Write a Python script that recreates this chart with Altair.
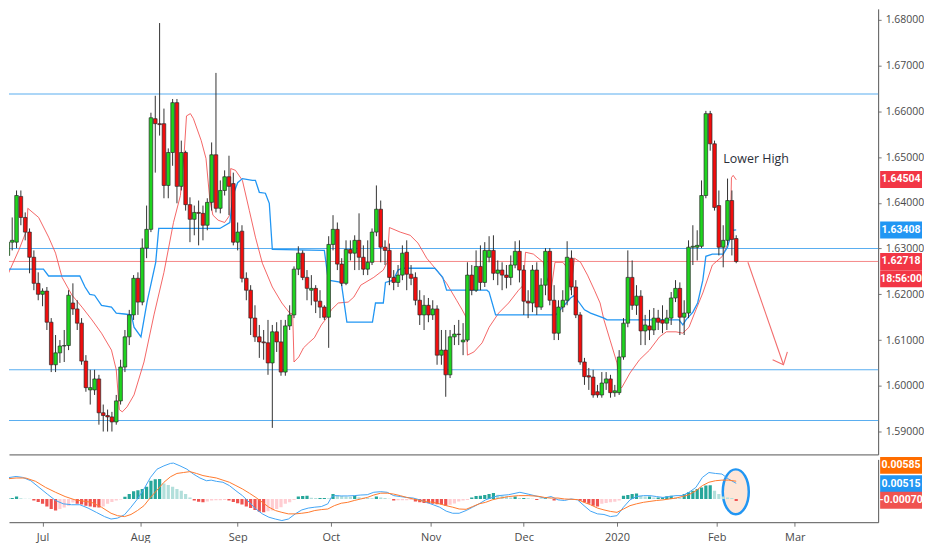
import altair as alt
import pandas as pd

# ---------------- candles (bar index 0 = 1 Jul 2019) ----------------
idx = list(range(-8, 161))
opens = [1.6285,1.6314,1.6314,1.6414,1.6368,1.6336,1.6281,1.6224,
 1.6200,1.6207,1.6139,1.6046,1.6072,1.6087,1.6088,1.6181,1.6168,1.6137,
 1.6054,1.5991,1.5991,1.6015,1.5941,1.5935,1.5932,1.5921,1.5967,1.6041,
 1.6107,1.6155,1.6235,1.6183,1.6301,1.6342,1.6584,1.6573,1.6573,1.6438,
 1.6510,1.6619,1.6436,1.6510,1.6396,1.6364,1.6379,1.6377,1.6351,1.6401,
 1.6505,1.6388,1.6427,1.6457,1.6442,1.6314,1.6338,1.6235,1.6209,1.6148,
 1.6107,1.6096,1.6094,1.6050,1.6118,1.6096,1.6030,1.6131,1.6155,1.6255,
 1.6290,1.6237,1.6209,1.6213,1.6185,1.6172,1.6150,1.6309,1.6342,1.6266,
 1.6224,1.6298,1.6290,1.6318,1.6281,1.6255,1.6270,1.6336,1.6386,1.6303,
 1.6296,1.6237,1.6226,1.6242,1.6292,1.6244,1.6237,1.6187,1.6155,1.6176,
 1.6155,1.6168,1.6067,1.6078,1.6024,1.6107,1.6113,1.6096,1.6100,1.6242,
 1.6209,1.6261,1.6226,1.6281,1.6296,1.6246,1.6253,1.6242,1.6237,1.6264,
 1.6294,1.6253,1.6185,1.6181,1.6253,1.6172,1.6220,1.6294,1.6187,1.6115,
 1.6172,1.6187,1.6279,1.6216,1.6155,1.6052,1.6022,1.6019,1.5987,1.5980,
 1.6006,1.6015,1.5985,1.5985,1.6063,1.6137,1.6237,1.6176,1.6196,1.6120,
 1.6131,1.6122,1.6148,1.6144,1.6137,1.6148,1.6192,1.6213,1.6150,1.6159,
 1.6303,1.6303,1.6305,1.6416,1.6595,1.6529,1.6394,1.6303,1.6318,1.6405,
 1.6322]
highs = [1.6336,1.6368,1.6427,1.6427,1.6379,1.6344,1.6296,1.6248,
 1.6213,1.6216,1.6148,1.6111,1.6100,1.6122,1.6209,1.6224,1.6187,1.6148,
 1.6067,1.6035,1.6035,1.6024,1.5959,1.5948,1.5943,1.5980,1.6057,1.6122,
 1.6166,1.6242,1.6248,1.6322,1.6394,1.6597,1.6634,1.6793,1.6606,1.6519,
 1.6627,1.6627,1.6536,1.6514,1.6412,1.6394,1.6405,1.6394,1.6410,1.6532,
 1.6684,1.6449,1.6471,1.6503,1.6466,1.6357,1.6351,1.6248,1.6220,1.6176,
 1.6133,1.6122,1.6144,1.6133,1.6139,1.6144,1.6144,1.6176,1.6261,1.6305,
 1.6296,1.6253,1.6242,1.6220,1.6209,1.6176,1.6327,1.6373,1.6357,1.6279,
 1.6318,1.6318,1.6329,1.6377,1.6307,1.6318,1.6344,1.6438,1.6405,1.6318,
 1.6311,1.6253,1.6264,1.6307,1.6318,1.6264,1.6248,1.6209,1.6198,1.6192,
 1.6187,1.6176,1.6122,1.6122,1.6122,1.6133,1.6144,1.6137,1.6270,1.6264,
 1.6296,1.6307,1.6314,1.6327,1.6329,1.6274,1.6270,1.6264,1.6285,1.6316,
 1.6318,1.6264,1.6209,1.6264,1.6270,1.6235,1.6301,1.6301,1.6220,1.6187,
 1.6209,1.6316,1.6296,1.6231,1.6161,1.6061,1.6039,1.6035,1.6002,1.6030,
 1.6030,1.6024,1.6002,1.6078,1.6148,1.6296,1.6274,1.6220,1.6209,1.6155,
 1.6166,1.6170,1.6166,1.6176,1.6166,1.6205,1.6231,1.6226,1.6187,1.6318,
 1.6351,1.6340,1.6449,1.6601,1.6601,1.6536,1.6427,1.6351,1.6453,1.6427,
 1.6329]
lows = [1.6270,1.6296,1.6301,1.6351,1.6318,1.6246,1.6209,1.6187,
 1.6174,1.6122,1.6030,1.6030,1.6050,1.6052,1.6078,1.6155,1.6122,1.6046,
 1.5987,1.5959,1.5980,1.5915,1.5900,1.5900,1.5900,1.5915,1.5959,1.6030,
 1.6089,1.6144,1.6155,1.6176,1.6279,1.6336,1.6466,1.6547,1.6410,1.6410,
 1.6481,1.6399,1.6427,1.6383,1.6314,1.6329,1.6307,1.6318,1.6340,1.6383,
 1.6379,1.6377,1.6416,1.6373,1.6307,1.6296,1.6226,1.6187,1.6111,1.6096,
 1.6061,1.6057,1.6024,1.5908,1.6074,1.6022,1.6022,1.6122,1.6148,1.6242,
 1.6231,1.6187,1.6176,1.6159,1.6148,1.6144,1.6083,1.6296,1.6253,1.6218,
 1.6220,1.6274,1.6253,1.6253,1.6242,1.6242,1.6264,1.6327,1.6270,1.6264,
 1.6220,1.6209,1.6216,1.6231,1.6209,1.6220,1.6176,1.6133,1.6122,1.6139,
 1.6144,1.6046,1.6046,1.5976,1.6017,1.6089,1.6089,1.6067,1.6096,1.6198,
 1.6205,1.6209,1.6216,1.6270,1.6231,1.6220,1.6209,1.6213,1.6220,1.6257,
 1.6226,1.6155,1.6148,1.6161,1.6155,1.6166,1.6198,1.6176,1.6100,1.6100,
 1.6161,1.6176,1.6198,1.6148,1.6046,1.6002,1.5991,1.5974,1.5974,1.5974,
 1.5991,1.5974,1.5976,1.5980,1.6057,1.6128,1.6166,1.6155,1.6089,1.6089,
 1.6100,1.6111,1.6122,1.6115,1.6122,1.6133,1.6183,1.6111,1.6111,1.6148,
 1.6264,1.6274,1.6301,1.6410,1.6514,1.6383,1.6285,1.6259,1.6307,1.6285,
 1.6268]
closes = [1.6314,1.6318,1.6416,1.6368,1.6336,1.6281,1.6224,1.6200,
 1.6207,1.6139,1.6046,1.6072,1.6087,1.6088,1.6198,1.6168,1.6137,1.6054,
 1.5996,1.5996,1.6015,1.5941,1.5935,1.5932,1.5921,1.5967,1.6041,1.6107,
 1.6155,1.6235,1.6183,1.6301,1.6342,1.6586,1.6573,1.6571,1.6438,1.6510,
 1.6619,1.6436,1.6510,1.6396,1.6364,1.6379,1.6377,1.6351,1.6401,1.6505,
 1.6388,1.6427,1.6457,1.6436,1.6314,1.6336,1.6235,1.6209,1.6148,1.6107,
 1.6096,1.6094,1.6050,1.6118,1.6096,1.6030,1.6131,1.6155,1.6255,1.6290,
 1.6237,1.6213,1.6213,1.6185,1.6172,1.6150,1.6309,1.6342,1.6266,1.6224,
 1.6298,1.6290,1.6318,1.6281,1.6255,1.6270,1.6336,1.6386,1.6303,1.6296,
 1.6237,1.6226,1.6242,1.6290,1.6244,1.6235,1.6187,1.6155,1.6176,1.6155,
 1.6168,1.6067,1.6078,1.6024,1.6107,1.6113,1.6112,1.6100,1.6242,1.6209,
 1.6261,1.6226,1.6296,1.6296,1.6246,1.6253,1.6242,1.6237,1.6264,1.6294,
 1.6253,1.6185,1.6181,1.6253,1.6172,1.6220,1.6294,1.6187,1.6115,1.6172,
 1.6187,1.6281,1.6216,1.6155,1.6052,1.6020,1.6019,1.5980,1.5980,1.6006,
 1.6015,1.5985,1.5989,1.6063,1.6137,1.6237,1.6176,1.6196,1.6120,1.6133,
 1.6122,1.6148,1.6139,1.6137,1.6148,1.6192,1.6213,1.6150,1.6159,1.6303,
 1.6305,1.6307,1.6416,1.6595,1.6529,1.6390,1.6303,1.6318,1.6405,1.6320,
 1.62718]

# ---------------- overlays on price ----------------
red_i = [-8.4,-5.5,-4.3,-3.6,-3.4,-0.9,1.4,3.0,4.5,6.8,9.1,11.4,13.6,15.9,17.0,17.7,18.4,19.5,21.1,
 23.4,25.7,28.0,30.2,31.8,32.7,33.2,34.1,34.8,36.6,37.7,38.6,39.3,40.5,42.0,43.2,43.4,44.5,46.1,
 47.7,49.1,50.7,53.0,55.2,57.0,57.7,58.0,59.1,60.2,61.4,62.7,64.3,65.5,66.6,68.2,70.5,71.8,73.4,
 76.4,78.6,79.5,80.0,82.5,84.8,86.6,88.6,90.9,93.2,95.5,96.8,97.7,98.0,99.5,101.4,103.0,105.2,
 107.5,109.8,110.9,111.4,113.2,115.5,116.1,117.3,118.2,120.0,121.1,121.8,122.7,124.1,125.7,127.3,
 128.6,129.5,130.9,132.5,133.2,133.6,135.5,137.7,140.0,142.3,143.9,146.1,147.7,149.1,150.7,152.3,
 154.5,156.8,158.0,158.6,158.9,159.3,160.0]
red_p = [1.6235,1.6296,1.6325,1.6340,1.6388,1.6368,1.6325,1.6290,1.6237,1.6198,1.6172,1.6144,1.6115,
 1.6078,1.6035,1.5948,1.5943,1.5954,1.5980,1.6052,1.6155,1.6248,1.6357,1.6416,1.6514,1.6590,1.6595,
 1.6584,1.6536,1.6497,1.6405,1.6373,1.6362,1.6357,1.6373,1.6475,1.6471,1.6449,1.6383,1.6325,1.6268,
 1.6216,1.6181,1.6159,1.6157,1.6052,1.6063,1.6083,1.6094,1.6105,1.6133,1.6148,1.6166,1.6181,1.6183,
 1.6194,1.6220,1.6237,1.6253,1.6270,1.6346,1.6336,1.6329,1.6312,1.6279,1.6253,1.6224,1.6187,1.6166,
 1.6150,1.6067,1.6074,1.6094,1.6128,1.6159,1.6181,1.6209,1.6220,1.6292,1.6288,1.6270,1.6242,1.6209,
 1.6270,1.6270,1.6257,1.6209,1.6279,1.6270,1.6242,1.6209,1.6181,1.6144,1.6100,1.6050,1.5998,1.5996,
 1.6028,1.6057,1.6078,1.6107,1.6118,1.6118,1.6115,1.6128,1.6166,1.6203,1.6264,1.6283,1.6309,1.6320,
 1.6455,1.6460,1.64504]

blue_i = [-8.4,0.2,1.4,8.6,9.8,10.9,12.0,13.6,15.9,17.0,18.9,20.5,21.1,22.7,24.1,26.1,26.8,40.9,43.2,
 43.9,45.0,46.1,48.4,49.1,50.0,51.4,52.3,53.0,65.0,65.9,68.9,70.2,76.1,76.8,78.6,79.1,80.9,82.0,83.0,
 90.5,92.3,93.2,102.5,103.0,104.5,118.4,121.8,122.7,123.4,125.0,126.4,129.5,130.2,146.8,147.7,148.4,
 150.0,151.1,152.3,153.0,154.5,157.0,158.0,158.6,159.1,160.0]
blue_p = [1.6255,1.6255,1.6240,1.6240,1.6216,1.6200,1.6198,1.6176,1.6172,1.6159,1.6157,1.6155,1.6128,
 1.6107,1.6183,1.6270,1.6344,1.6344,1.6357,1.6416,1.6444,1.6453,1.6449,1.6449,1.6423,1.6421,1.6399,
 1.6298,1.6296,1.6231,1.6226,1.6139,1.6139,1.6181,1.6181,1.6226,1.6231,1.6253,1.6257,1.6257,1.6237,
 1.6209,1.6209,1.6205,1.6155,1.6155,1.6192,1.6198,1.6187,1.6166,1.6159,1.6148,1.6144,1.6144,1.6133,
 1.6144,1.6161,1.6181,1.6231,1.6283,1.6288,1.6288,1.6303,1.6325,1.6340,1.63408]

level_prices = [1.6638, 1.6300, 1.6035, 1.5924]
last_price = 1.62718

arrow_seg = ["shaft", "shaft", "head", "head", "head"]
arrow_ord = [0, 1, 0, 1, 2]
arrow_i = [162.7, 170.9, 168.4, 170.9, 171.8]
arrow_p = [1.6270, 1.6046, 1.6057, 1.6046, 1.6074]

note_text = ["Lower High"]
note_i = [164.6]
note_p = [1.6495]

price_lbl_text = ["1.64504", "1.63408", "1.62718", "18:56:00"]
price_lbl_pos = [1.6451, 1.63408, 1.62718, 1.6234]
price_lbl_color = ["#f23645", "#2196f3", "#f23645", "#f23645"]
price_ticks = [1.59, 1.60, 1.61, 1.62, 1.63, 1.64, 1.65, 1.66, 1.67, 1.68]

# ---------------- MACD (values x 1e-4) ----------------
hist_e4 = [2,3,8,2,1,0.5,-5,-10,
 -16,-25,-33,-38,-33,-28,-22,-12,-16,-18,-22,-25,-27,-28,-25,-16,-10,-5,-2,
 7,16,25,29,33,40,60,65,66,51,46,40,33,27,16,5,
 -5,-9,-11,-8,-5,-4,-4,-3,-5,-10,-14,-18,-25,-30,-36,-42,-44,-40,-38,-33,-27,-16,-11,-3,
 8,10,11,4,3,3,3,2,16,12,10,8,7,11,6,4,3,2,8,5,3,1,
 -5,-4,-4,-4,-3,-8,-11,-13,-14,-16,-17,-18,-22,-19,-15,-8,-5,-3,
 5,10,11,13,16,20,14,11,8,5,8,3,3,2,1,-3,1,2,1,
 -5,-2,-2,-2,-2,-2,-6,-11,-16,-22,-25,-16,-13,-11,-9,-5,
 11,13,16,18,11,8,8,5,5,5,9,11,5,3,16,22,27,33,38,44,45,27,16,8,5,3,-7]

macd_i = [-8.4,-6.1,-4.6,-2.7,-0.8,1.1,3.0,4.8,6.7,8.6,10.5,12.4,14.3,15.8,17.3,18.9,20.4,21.9,23.4,
 24.9,26.4,28.0,29.5,30.2,31.7,33.3,34.8,36.3,37.8,38.9,40.1,41.6,43.1,44.6,46.1,47.7,49.2,50.7,52.2,
 53.7,55.2,56.7,58.3,59.8,61.3,62.8,64.3,65.8,66.6,67.3,68.9,70.4,71.9,73.4,74.9,76.4,78.0,79.5,81.0,
 82.5,84.0,85.5,87.0,88.6,90.1,91.6,93.1,94.6,96.1,97.7,99.2,100.7,102.2,103.7,105.2,107.5,110.1,
 112.0,114.3,115.8,117.3,118.9,120.4,121.9,123.4,124.9,126.4,128.0,129.5,131.0,132.5,134.0,135.5,
 137.0,138.6,140.1,141.6,143.1,144.6,146.1,147.6,149.1,150.7,152.2,153.7,155.2,156.7,158.2,160.0]
macd_e4 = [69,74,71,60,38,16,-5,-16,-19,-19,-30,-44,-58,-66,-63,-52,-27,0,33,71,98,109,117,118,109,
 98,82,69,60,62,58,55,44,27,11,-11,-33,-49,-60,-66,-71,-66,-49,-36,-30,-27,-25,-16,5,11,10,10,11,
 13,14,22,24,22,11,8,5,3,-3,-11,-19,-27,-40,-47,-47,-38,-27,-16,-3,5,11,14,22,16,8,3,8,-3,-5,0,-3,
 -22,-40,-49,-51,-58,-55,-27,-3,8,11,11,8,5,8,11,11,22,38,71,87,84,82,66,51.5]

sig_i = [-8.4,-6.1,-3.9,-1.6,0.7,3.0,5.2,7.5,9.8,11.3,13.6,15.8,17.3,18.9,20.4,21.9,23.4,24.9,26.4,
 28.0,29.5,31.0,32.5,34.0,35.5,37.0,38.5,40.1,41.6,43.1,44.6,46.1,47.7,49.2,50.7,52.2,53.7,55.2,56.7,
 58.3,59.8,61.3,62.8,64.3,65.8,67.3,68.9,70.4,71.9,73.4,74.9,76.4,78.0,79.5,81.0,82.5,84.0,85.5,87.0,
 88.6,90.1,91.6,93.1,94.6,96.1,97.7,99.2,100.7,102.2,103.7,105.2,107.5,109.8,112.0,114.3,115.8,117.3,
 118.9,120.4,121.9,123.4,124.9,126.4,128.0,129.5,131.0,132.5,134.0,135.5,137.0,138.6,140.1,141.6,
 143.1,144.6,146.1,147.6,149.1,150.7,152.2,153.7,155.2,156.7,158.2,160.0]
sig_e4 = [66,69,69,58,38,22,8,-3,-8,-11,-27,-47,-55,-58,-51,-38,-22,5,29,55,73,84,87,90,84,77,73,69,
 62,55,44,33,19,5,-11,-27,-38,-44,-49,-49,-47,-44,-38,-35,-33,-22,-14,-11,-5,0,5,13,19,19,16,11,5,0,
 -5,-9,-11,-16,-22,-27,-33,-34,-25,-16,-11,-3,2,8,11,11,9,5,3,3,0,-1,-2,-11,-19,-30,-36,-41,-44,-33,
 -22,-16,-11,-8,-5,-3,0,3,8,14,27,44,55,60,62,62,58.5]

macd_lbl_text = ["0.00585", "0.00515", "-0.00070"]
macd_lbl_pos = [0.01105, 0.0050, -0.00043]
macd_lbl_color = ["#ff6d00", "#2196f3", "#ef5350"]

ellipse_i = [159.9]
ellipse_v = [0.00236]

month_pos = [0, 22.5, 45, 66.5, 89.5, 111, 132.5, 155.5, 173.5]
month_names = ["Jul", "Aug", "Sep", "Oct", "Nov", "Dec", "2020", "Feb", "Mar"]

# colours
UP, DOWN = "#1fd41f", "#f20d0d"
H_PU, H_PD, H_ND, H_NU = "#26a69a", "#b2dfdb", "#ef5350", "#ffcdd2"

# ---------------- build tables ----------------
cdf = pd.DataFrame({"i": idx, "o": opens, "h": highs, "l": lows, "c": closes})
cdf["col"] = [UP if c >= o else DOWN for o, c in zip(opens, closes)]
reddf = pd.DataFrame({"i": red_i, "p": red_p})
bluedf = pd.DataFrame({"i": blue_i, "p": blue_p})
levdf = pd.DataFrame({"p": level_prices})
lastdf = pd.DataFrame({"p": [last_price]})
arrdf = pd.DataFrame({"seg": arrow_seg, "ord": arrow_ord, "i": arrow_i, "p": arrow_p})
notedf = pd.DataFrame({"t": note_text, "i": note_i, "p": note_p})
plbl = pd.DataFrame({"t": price_lbl_text, "p": price_lbl_pos, "col": price_lbl_color})

hv = [v / 1e4 for v in hist_e4]
hcol = []
prev = 0.0
for v in hv:
    if v >= 0:
        hcol.append(H_PU if v >= prev else H_PD)
    else:
        hcol.append(H_ND if v < prev else H_NU)
    prev = v
hdf = pd.DataFrame({"i": idx, "v": hv, "col": hcol})
mdf = pd.DataFrame({"i": macd_i, "v": [v / 1e4 for v in macd_e4]})
sdf = pd.DataFrame({"i": sig_i, "v": [v / 1e4 for v in sig_e4]})
mlbl = pd.DataFrame({"t": macd_lbl_text, "v": macd_lbl_pos, "col": macd_lbl_color})
elldf = pd.DataFrame({"i": ellipse_i, "v": ellipse_v})

# ---------------- scales / axes ----------------
W = 872
FONT = "Open Sans"
xs = alt.Scale(domain=[-6.59, 191.59], nice=False, zero=False)
ys = alt.Scale(domain=[1.5850, 1.6824], nice=False, zero=False)
ms = alt.Scale(domain=[-0.00764, 0.01302], nice=False, zero=False)

x_price_axis = alt.Axis(title=None, labels=False, ticks=False, grid=False,
                        domain=True, domainColor="#555", domainWidth=1)
y_price_axis = alt.Axis(title=None, orient="right", values=price_ticks, format=".5f",
                        grid=False, tickSize=3, tickColor="#777", labelPadding=4,
                        domainColor="#555", labelFont=FONT, labelFontSize=10.5,
                        labelColor="#4a4a4a")

expr = "''"
for p_, n_ in reversed(list(zip(month_pos, month_names))):
    expr = f"abs(datum.value - {p_}) < 0.01 ? '{n_}' : ({expr})"
x_macd_axis = alt.Axis(title=None, values=month_pos, labelExpr=expr, grid=False,
                       tickSize=4, tickColor="#777", domainColor="#555",
                       labelFont=FONT, labelFontSize=11, labelColor="#4a4a4a",
                       labelPadding=5, labelFlush=False)
y_macd_axis = alt.Axis(title=None, orient="right", labels=False, ticks=False,
                       grid=False, domainColor="#555")

def PX(f="i"):
    return alt.X(f"{f}:Q", scale=xs, axis=x_price_axis)

def PY(f="p"):
    return alt.Y(f"{f}:Q", scale=ys, axis=y_price_axis)

def MX(f="i"):
    return alt.X(f"{f}:Q", scale=xs, axis=x_macd_axis)

def MY(f="v"):
    return alt.Y(f"{f}:Q", scale=ms, axis=y_macd_axis)

box_path = "M -1 -0.405 L 1 -0.405 L 1 0.405 L -1 0.405 Z"
BOX_X = W + 23

# ---------------- price panel ----------------
levels = alt.Chart(levdf).mark_rule(color="#5aaef0", strokeWidth=1.1).encode(y=PY())
lastline = alt.Chart(lastdf).mark_rule(color="#f26b6b", strokeWidth=1, opacity=0.8).encode(y=PY())
redline = alt.Chart(reddf).mark_line(color="#f24b4b", strokeWidth=1, opacity=0.85, clip=True).encode(
    x=PX(), y=PY(), order="i:Q")
blueline = alt.Chart(bluedf).mark_line(color="#2196f3", strokeWidth=1.3, clip=True).encode(
    x=PX(), y=PY(), order="i:Q")
wicks = alt.Chart(cdf).mark_rule(color="#333333", strokeWidth=1, clip=True).encode(
    x=PX(), y=PY("l"), y2=alt.Y2("h:Q"))
bodies = alt.Chart(cdf).mark_bar(size=3.6, stroke="#2a2a2a", strokeWidth=0.7, clip=True).encode(
    x=PX(), y=PY("o"), y2=alt.Y2("c:Q"), color=alt.Color("col:N", scale=None))
arrow = alt.Chart(arrdf).mark_line(color="#f26d6d", strokeWidth=1.1).encode(
    x=PX(), y=PY(), detail="seg:N", order="ord:Q")
note = alt.Chart(notedf).mark_text(font=FONT, fontSize=12.5, color="#2a2e39").encode(
    x=PX(), y=PY(), text="t:N")
pboxes = alt.Chart(plbl).mark_point(shape=box_path, size=42 * 42, filled=True, opacity=1).encode(
    x=alt.value(BOX_X), y=PY(), color=alt.Color("col:N", scale=None))
ptexts = alt.Chart(plbl).mark_text(font="Roboto", fontSize=10.5, fontWeight="bold", color="white").encode(
    x=alt.value(BOX_X), y=PY(), text="t:N")

price = alt.layer(levels, lastline, redline, blueline, wicks, bodies, arrow, note, pboxes, ptexts
                  ).properties(width=W, height=447)

# ---------------- MACD panel ----------------
ell = alt.Chart(elldf).mark_point(
    shape="M 0 -1 A 0.58 1 0 1 1 0 1 A 0.58 1 0 1 1 0 -1 Z", size=2025, filled=False,
    fill="#fde6d8", fillOpacity=1, stroke="#2196f3", strokeWidth=2.5, opacity=1).encode(
    x=MX(), y=MY())
hist = alt.Chart(hdf).mark_bar(size=3.2, clip=True).encode(
    x=MX(), y=MY(), y2=alt.datum(0), color=alt.Color("col:N", scale=None))
mline = alt.Chart(mdf).mark_line(color="#42a5f5", strokeWidth=1, clip=True).encode(
    x=MX(), y=MY(), order="i:Q")
sline = alt.Chart(sdf).mark_line(color="#ff7a2e", strokeWidth=1, clip=True).encode(
    x=MX(), y=MY(), order="i:Q")
mboxes = alt.Chart(mlbl).mark_point(shape=box_path, size=42 * 42, filled=True, opacity=1).encode(
    x=alt.value(BOX_X), y=MY(), color=alt.Color("col:N", scale=None))
mtexts = alt.Chart(mlbl).mark_text(font="Roboto", fontSize=10.5, fontWeight="bold", color="white").encode(
    x=alt.value(BOX_X), y=MY(), text="t:N")

macd = alt.layer(ell, hist, mline, sline, mboxes, mtexts).properties(width=W, height=63)

chart = alt.vconcat(price, macd, spacing=2).properties(
    padding={"left": 0, "top": 0, "right": 0, "bottom": 0}, background="white"
).configure_view(stroke=None)

chart.save("out.html", embed_options={"renderer": "svg", "actions": False})
